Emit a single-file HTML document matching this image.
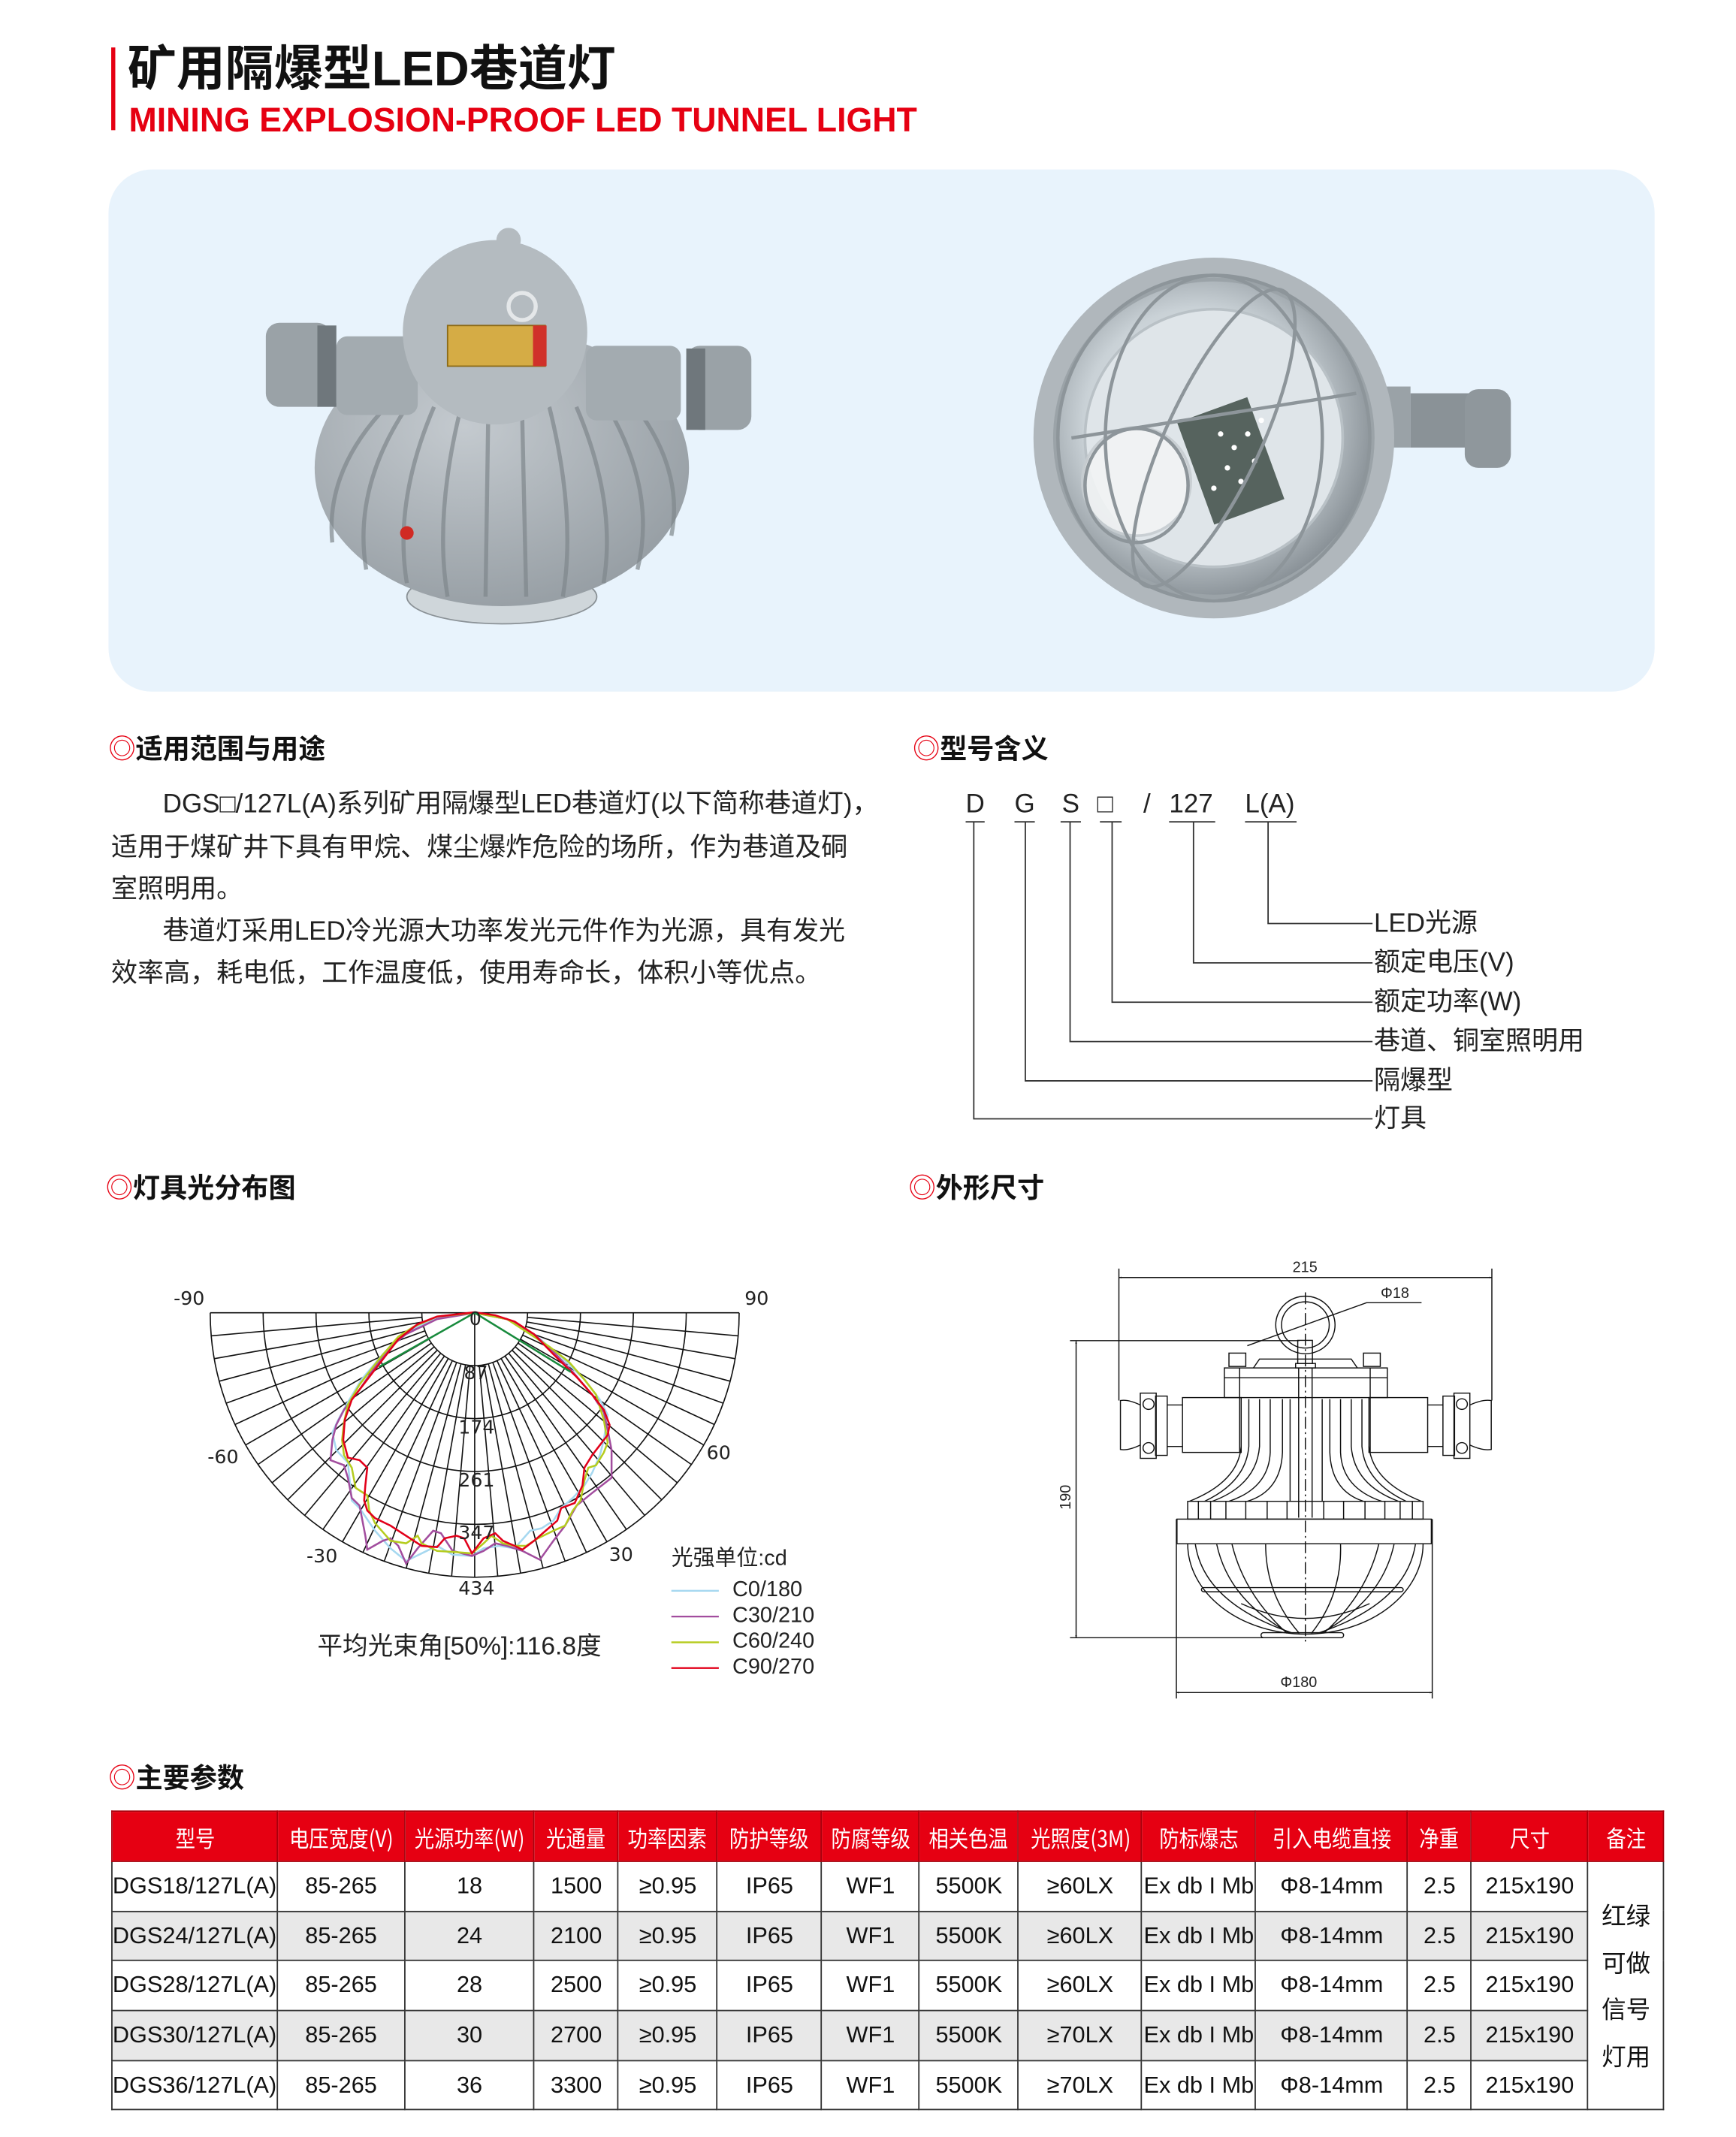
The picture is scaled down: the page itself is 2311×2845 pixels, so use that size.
<!DOCTYPE html>
<html><head><meta charset="utf-8">
<style>
html,body{margin:0;padding:0;background:#fff;}
body{width:2311px;height:2844px;position:relative;overflow:hidden;}
#w{position:absolute;left:0;top:0;width:1280px;height:1576px;transform:scale(1.80547);transform-origin:0 0;font-family:"Liberation Sans","Noto Sans CJK SC",sans-serif;color:#222;}
.a{position:absolute;white-space:nowrap;}
.h{font-size:20px;font-weight:bold;color:#111;line-height:24px;}
.h b{color:#e60012;font-weight:normal;}
.p{font-size:19.4px;line-height:24px;color:#222;}
table{position:absolute;left:82px;top:1335px;border-collapse:collapse;table-layout:fixed;font-family:"Liberation Sans Narrow","Liberation Sans","Noto Sans CJK SC",sans-serif;}
td,th{border:1px solid #333;padding:0;text-align:center;font-size:17px;color:#111;overflow:hidden;white-space:nowrap;}
th{background:#e60012;color:#fff;font-weight:normal;height:36px;border-color:#a8000c;}
th span{display:inline-block;transform:scaleX(0.86);font-family:"Noto Sans CJK SC",sans-serif;font-size:17px;}
td{height:35.7px;}
tr.g td{background:#e8e8e8;}
td.n{background:#fff!important;font-family:"Noto Sans CJK SC",sans-serif;font-size:18px;line-height:34.5px;}
.lg{font-size:16px;line-height:18px;}
.cl{font-size:14px;color:#222;font-family:"DejaVu Sans",sans-serif;}
.dl{font-size:11px;color:#222;font-family:"Liberation Sans",sans-serif;}
</style></head><body>
<div id="w">
<div class="a" style="left:82px;top:35px;width:3px;height:61px;background:#e60012"></div>
<div class="a" style="left:94px;top:31px;font-size:36px;font-weight:bold;line-height:40px;color:#111;font-family:'Liberation Sans','Noto Sans CJK SC',sans-serif;">矿用隔爆型LED巷道灯</div>
<div class="a" style="left:95px;top:75px;font-size:25px;font-weight:bold;line-height:28px;color:#e60012;transform:scaleX(0.99);transform-origin:0 0;">MINING EXPLOSION-PROOF LED TUNNEL LIGHT</div>

<div class="a" style="left:80px;top:125px;width:1140px;height:385px;background:#e8f3fc;border-radius:32px;"></div>

<svg class="a" style="left:0;top:0" width="1280" height="520" viewBox="0 0 1280 520">
 <defs>
  <radialGradient id="gb" cx="0.4" cy="0.35" r="0.8"><stop offset="0" stop-color="#c4cacf"/><stop offset="1" stop-color="#8f979d"/></radialGradient>
  <radialGradient id="gl" cx="0.45" cy="0.45" r="0.6"><stop offset="0" stop-color="#f4f7f9"/><stop offset="0.6" stop-color="#c9d1d6"/><stop offset="1" stop-color="#7e868c"/></radialGradient>
 </defs>
 <ellipse cx="370" cy="440" rx="70" ry="20" fill="#cfd6da" stroke="#8a9196"/>
 <ellipse cx="370" cy="345" rx="138" ry="102" fill="url(#gb)"/>
 <g stroke="#7f878c" stroke-width="3" fill="none" opacity="0.7">
  <path d="M300 300 Q260 360 270 420"/><path d="M320 300 Q290 370 300 430"/><path d="M340 300 Q320 380 330 440"/>
  <path d="M360 305 L358 440"/><path d="M385 305 L388 440"/><path d="M405 300 Q425 380 415 440"/>
  <path d="M425 300 Q455 370 445 430"/><path d="M445 295 Q485 360 470 420"/><path d="M280 305 Q240 350 245 400"/><path d="M465 295 Q505 345 495 395"/>
 </g>
 <rect x="248" y="248" width="60" height="58" rx="8" fill="#a3abb0"/>
 <rect x="432" y="255" width="70" height="55" rx="8" fill="#a3abb0"/>
 <rect x="196" y="238" width="48" height="62" rx="10" fill="#9aa2a7"/>
 <rect x="234" y="240" width="14" height="60" fill="#6f777c"/>
 <rect x="506" y="255" width="48" height="62" rx="10" fill="#9aa2a7"/>
 <rect x="506" y="257" width="14" height="60" fill="#6f777c"/>
 <circle cx="365" cy="245" r="68" fill="#b4bbc0"/>
 <circle cx="375" cy="177" r="9" fill="#b4bbc0"/>
 <rect x="330" y="240" width="72" height="30" fill="#d5ac45" stroke="#8b6a16"/>
 <rect x="393" y="240" width="10" height="30" fill="#d0312a"/>
 <circle cx="385" cy="226" r="10" fill="none" stroke="#e4e7e9" stroke-width="3"/>
 <circle cx="300" cy="393" r="5" fill="#d02a23"/>
 <rect x="990" y="285" width="50" height="45" fill="#9aa2a7"/>
 <rect x="1040" y="290" width="45" height="40" fill="#8a9297"/>
 <rect x="1080" y="287" width="34" height="58" rx="10" fill="#8f979c"/>
 <circle cx="895" cy="323" r="133" fill="#b0b7bc"/>
 <circle cx="895" cy="323" r="117" fill="url(#gl)" stroke="#9ba3a8" stroke-width="3"/>
 <circle cx="895" cy="323" r="95" fill="#dfe5e9" stroke="#b9c1c6" stroke-width="2"/>
 <rect x="880" y="300" width="55" height="80" fill="#56635e" transform="rotate(-20 907 340)"/>
 <g fill="#fff"><circle cx="900" cy="320" r="2"/><circle cx="910" cy="330" r="2"/><circle cx="920" cy="320" r="2"/><circle cx="905" cy="345" r="2"/><circle cx="915" cy="355" r="2"/><circle cx="925" cy="340" r="2"/><circle cx="895" cy="360" r="2"/><circle cx="930" cy="310" r="2"/></g>
 <circle cx="838" cy="355" r="40" fill="#f2f4f5" stroke="#c7cdd1" stroke-width="2" opacity="0.9"/>
 <g fill="none" stroke="#8d959a" stroke-width="2.5">
  <ellipse cx="895" cy="323" rx="115" ry="120"/>
  <ellipse cx="895" cy="323" rx="80" ry="120"/>
  <ellipse cx="895" cy="323" rx="35" ry="120" transform="rotate(25 895 323)"/>
  <line x1="790" y1="323" x2="1000" y2="290"/>
  <ellipse cx="838" cy="358" rx="38" ry="42"/>
 </g>
</svg>

<div class="a h" style="left:80px;top:541px;"><b>◎</b>适用范围与用途</div>
<div class="a p" style="left:120px;top:581px;">DGS□/127L(A)系列矿用隔爆型LED巷道灯(以下简称巷道灯)，</div>
<div class="a p" style="left:82px;top:613px;">适用于煤矿井下具有甲烷、煤尘爆炸危险的场所，作为巷道及硐</div>
<div class="a p" style="left:82px;top:644px;">室照明用。</div>
<div class="a p" style="left:120px;top:675px;">巷道灯采用LED冷光源大功率发光元件作为光源，具有发光</div>
<div class="a p" style="left:82px;top:706px;">效率高，耗电低，工作温度低，使用寿命长，体积小等优点。</div>

<div class="a h" style="left:673px;top:541px;"><b>◎</b>型号含义</div>
<div class="a p" style="left:712px;top:581px;">D</div>
<div class="a p" style="left:748px;top:581px;">G</div>
<div class="a p" style="left:783px;top:581px;">S</div>
<div class="a p" style="left:809px;top:581px;">□</div>
<div class="a p" style="left:843px;top:581px;">/</div>
<div class="a p" style="left:862px;top:581px;">127</div>
<div class="a p" style="left:918px;top:581px;">L(A)</div>
<svg class="a" style="left:0;top:0" width="1280" height="860" viewBox="0 0 1280 860">
 <g stroke="#333" stroke-width="1" fill="none">
  <path d="M712 606H726M748 606H763M782 606H797M811 606H827M862 606H896M918 606H956"/>
  <path d="M935 606V681H1012M880 606V710H1012M820 606V739H1012M789 606V768H1012M756 606V797H1012M718 606V825H1012"/>
 </g>
</svg>
<div class="a p" style="left:1013px;top:669px;">LED光源</div>
<div class="a p" style="left:1013px;top:698px;">额定电压(V)</div>
<div class="a p" style="left:1013px;top:727px;">额定功率(W)</div>
<div class="a p" style="left:1013px;top:756px;">巷道、铜室照明用</div>
<div class="a p" style="left:1013px;top:785px;">隔爆型</div>
<div class="a p" style="left:1013px;top:813px;">灯具</div>

<div class="a h" style="left:78px;top:865px;"><b>◎</b>灯具光分布图</div>
<svg class="a" style="left:0;top:0" width="1280" height="1260" viewBox="0 0 1280 1260">
 <g stroke="#111" stroke-width="0.9" fill="none">
  <path d="M155 968H545"/>
  <path d="M311 968A39 39 0 0 0 389 968"/>
  <path d="M272 968A78 78 0 0 0 428 968"/>
  <path d="M233 968A117 117 0 0 0 467 968"/>
  <path d="M194 968A156 156 0 0 0 506 968"/>
  <path d="M155 968A195 195 0 0 0 545 968"/>
  <path id="rad" d=""/>
 </g>
 <g transform="translate(350,968) scale(0.2859,0.1858) translate(-797,-215)" fill="none" stroke-width="1.4">
  <polyline vector-effect="non-scaling-stroke" stroke="#a6d8f0" points="797,215 700,235 620,290 560,380 505,480 470,570 445,640 430,690 440,760 470,810 480,960 500,990 540,1080 580,1150 620,1200 660,1170 700,1140 740,1175 790,1180 820,1150 860,1140 900,1150 940,1080 970,1070 1000,1040 1020,990 1050,950 1080,900 1100,850 1120,780 1130,720 1140,620 1120,560 1080,480 1020,390 950,300 880,240 797,215"/>
  <polyline vector-effect="non-scaling-stroke" stroke="#a24d9e" points="797,215 700,240 620,300 580,350 540,430 500,520 460,600 440,660 430,720 425,800 460,820 470,870 480,950 500,980 515,1100 520,1155 560,1120 580,1110 600,1140 620,1210 650,1150 690,1080 710,1090 740,1160 790,1180 820,1160 850,1130 880,1140 920,1160 965,1195 1000,1120 1030,1060 1060,980 1100,930 1150,870 1150,760 1140,680 1130,610 1100,540 1050,450 1000,370 950,300 880,240 797,215"/>
  <polyline vector-effect="non-scaling-stroke" stroke="#b5cc1e" points="797,215 700,230 640,270 600,310 550,400 500,500 470,580 460,650 455,720 460,780 480,830 490,910 520,940 525,1000 540,1050 580,1120 620,1130 650,1100 660,1130 700,1160 750,1165 790,1170 820,1130 840,1100 870,1130 900,1140 930,1140 960,1110 1000,1080 1030,1060 1050,1000 1070,960 1080,880 1090,830 1110,820 1130,770 1140,730 1130,640 1110,540 1080,480 1040,410 990,350 940,300 880,240 797,215"/>
  <polyline vector-effect="non-scaling-stroke" stroke="#e2001a" points="797,213 700,230 650,260 600,320 550,420 510,500 480,560 462,640 458,720 470,790 500,800 520,830 515,900 512,960 520,1000 540,1030 580,1060 620,1100 660,1140 700,1145 720,1110 750,1100 770,1110 790,1170 820,1110 850,1090 870,1120 900,1140 920,1155 950,1120 980,1080 1010,1040 1020,990 1055,970 1075,900 1080,830 1100,780 1120,740 1140,700 1145,660 1130,600 1100,540 1060,470 1000,380 950,300 900,250 850,225 797,213"/>
  <polyline vector-effect="non-scaling-stroke" stroke="#178a3c" points="550,430 797,215 1045,450"/>
 </g>
 <g stroke-width="1.3">
  <line x1="495" y1="1173" x2="530" y2="1173" stroke="#a6d8f0"/>
  <line x1="495" y1="1192" x2="530" y2="1192" stroke="#a24d9e"/>
  <line x1="495" y1="1211" x2="530" y2="1211" stroke="#b5cc1e"/>
  <line x1="495" y1="1230" x2="530" y2="1230" stroke="#e2001a"/>
 </g>
</svg>
<div class="a cl" style="left:128px;top:950px;">-90</div>
<div class="a cl" style="left:549px;top:950px;">90</div>
<div class="a cl" style="left:153px;top:1067px;">-60</div>
<div class="a cl" style="left:521px;top:1064px;">60</div>
<div class="a cl" style="left:226px;top:1140px;">-30</div>
<div class="a cl" style="left:449px;top:1139px;">30</div>
<div class="a cl" style="left:338px;top:1164px;">434</div>
<div class="a cl" style="left:346px;top:965px;">0</div>
<div class="a cl" style="left:342px;top:1005px;">87</div>
<div class="a cl" style="left:338px;top:1045px;">174</div>
<div class="a cl" style="left:338px;top:1084px;">261</div>
<div class="a cl" style="left:338px;top:1123px;">347</div>
<div class="a lg" style="left:495px;top:1141px;">光强单位:cd</div>
<div class="a lg" style="left:540px;top:1164px;">C0/180</div>
<div class="a lg" style="left:540px;top:1183px;">C30/210</div>
<div class="a lg" style="left:540px;top:1202px;">C60/240</div>
<div class="a lg" style="left:540px;top:1221px;">C90/270</div>
<div class="a p" style="left:234px;top:1202px;font-size:18.6px;">平均光束角[50%]:116.8度</div>

<div class="a h" style="left:670px;top:865px;"><b>◎</b>外形尺寸</div>
<svg class="a" style="left:0;top:0" width="1280" height="1280" viewBox="0 0 1280 1280">
 <defs><marker id="ar" markerWidth="8" markerHeight="6" refX="8" refY="3" orient="auto-start-reverse" markerUnits="userSpaceOnUse"><path d="M0 0L8 3L0 6Z" fill="#111"/></marker></defs>
 <g transform="translate(825,942) scale(0.2254,0.2186) translate(-240,-130)" fill="none" stroke="#111" stroke-width="3.6">
  <line x1="240" y1="130" x2="1460" y2="130" marker-start="url(#ar)" marker-end="url(#ar)"/>
  <path d="M240 100V545M1460 100V545"/>
  <circle cx="850" cy="290" r="97"/><circle cx="850" cy="290" r="78"/>
  <path d="M660 360L1050 215H1230"/>
  <line x1="100" y1="345" x2="100" y2="1345" marker-start="url(#ar)" marker-end="url(#ar)"/>
  <path d="M80 343H830M80 1345H840"/>
  <line x1="428" y1="1530" x2="1265" y2="1530" marker-start="url(#ar)" marker-end="url(#ar)"/>
  <path d="M428 945V1550M1265 945V1550"/>
  <path d="M850 180V1370" stroke-dasharray="40 12 6 12"/>
  <rect x="825" y="342" width="48" height="78"/><rect x="818" y="420" width="65" height="15"/>
  <path d="M828 435V940M872 435V940"/>
  <rect x="600" y="385" width="55" height="45"/><rect x="1040" y="385" width="55" height="45"/>
  <path d="M680 435L700 405H1000L1020 435"/>
  <rect x="585" y="435" width="533" height="100"/>
  <path d="M585 468H1118M635 435V720M1062 435V720"/>
  <rect x="448" y="535" width="192" height="185"/><rect x="1058" y="535" width="192" height="185"/>
  <rect x="360" y="530" width="38" height="200"/><rect x="310" y="520" width="52" height="220"/>
  <circle cx="337" cy="557" r="18"/><circle cx="337" cy="705" r="18"/>
  <rect x="1300" y="530" width="38" height="200"/><rect x="1336" y="520" width="52" height="220"/>
  <circle cx="1362" cy="557" r="18"/><circle cx="1362" cy="705" r="18"/>
  <path d="M310 560Q270 540 245 545V710Q270 715 310 695"/>
  <path d="M1388 560Q1430 540 1458 545V710Q1430 715 1388 695"/>
  <path d="M398 560H448M398 700H448M1250 560H1300M1250 700H1300"/>
  <path d="M665 540V700Q655 820 520 885M700 540V700Q690 830 545 885M735 540V720Q730 840 600 885M775 540V720Q770 850 660 885M800 540V885M905 540V885"/>
  <path d="M1035 540V700Q1045 820 1180 885M1000 540V700Q1010 830 1155 885M965 540V720Q970 840 1100 885M930 540V720Q935 850 1040 885"/>
  <path d="M640 700Q630 820 470 885M1058 700Q1070 820 1230 885"/>
  <rect x="465" y="885" width="770" height="60"/>
  <path d="M500 885V945M540 885V945M590 885V945M655 885V945M725 885V945M790 885V945M910 885V945M975 885V945M1045 885V945M1110 885V945M1160 885V945M1200 885V945"/>
  <rect x="430" y="945" width="832" height="83"/>
  <path d="M465 1028A385 305 0 0 0 1235 1028"/>
  <path d="M490 1030Q520 1230 810 1330M560 1030Q600 1220 800 1330M610 1030Q650 1200 790 1330M720 1030Q720 1200 830 1330M1210 1030Q1180 1230 890 1330M1140 1030Q1100 1220 900 1330M1090 1030Q1050 1200 910 1330M965 1030Q970 1200 870 1330"/>
  <path d="M640 1230Q850 1330 1060 1230"/>
  <rect x="510" y="1176" width="660" height="14" rx="7"/>
  <rect x="705" y="1328" width="270" height="17" rx="8"/>
 </g>
</svg>
<div class="a dl" style="left:953px;top:929px;">215</div>
<div class="a dl" style="left:1018px;top:948px;">Φ18</div>
<div class="a dl" style="left:777px;top:1098px;transform:rotate(-90deg);">190</div>
<div class="a dl" style="left:944px;top:1235px;">Φ180</div>

<div class="a h" style="left:80px;top:1300px;"><b>◎</b>主要参数</div>
<table>
<colgroup><col style="width:122px"><col style="width:94px"><col style="width:91px"><col style="width:62px"><col style="width:73px"><col style="width:77px"><col style="width:72px"><col style="width:73px"><col style="width:91px"><col style="width:84px"><col style="width:112px"><col style="width:47px"><col style="width:86px"><col style="width:56px"></colgroup>
<tr><th><span>型号</span></th><th><span>电压宽度(V)</span></th><th><span>光源功率(W)</span></th><th><span>光通量</span></th><th><span>功率因素</span></th><th><span>防护等级</span></th><th><span>防腐等级</span></th><th><span>相关色温</span></th><th><span>光照度(3M)</span></th><th><span>防标爆志</span></th><th><span>引入电缆直接</span></th><th><span>净重</span></th><th><span>尺寸</span></th><th><span>备注</span></th></tr>
<tr><td>DGS18/127L(A)</td><td>85-265</td><td>18</td><td>1500</td><td>≥0.95</td><td>IP65</td><td>WF1</td><td>5500K</td><td>≥60LX</td><td>Ex db I Mb</td><td>Φ8-14mm</td><td>2.5</td><td>215x190</td><td class="n" rowspan="5">红绿<br>可做<br>信号<br>灯用</td></tr>
<tr class="g"><td>DGS24/127L(A)</td><td>85-265</td><td>24</td><td>2100</td><td>≥0.95</td><td>IP65</td><td>WF1</td><td>5500K</td><td>≥60LX</td><td>Ex db I Mb</td><td>Φ8-14mm</td><td>2.5</td><td>215x190</td></tr>
<tr><td>DGS28/127L(A)</td><td>85-265</td><td>28</td><td>2500</td><td>≥0.95</td><td>IP65</td><td>WF1</td><td>5500K</td><td>≥60LX</td><td>Ex db I Mb</td><td>Φ8-14mm</td><td>2.5</td><td>215x190</td></tr>
<tr class="g"><td>DGS30/127L(A)</td><td>85-265</td><td>30</td><td>2700</td><td>≥0.95</td><td>IP65</td><td>WF1</td><td>5500K</td><td>≥70LX</td><td>Ex db I Mb</td><td>Φ8-14mm</td><td>2.5</td><td>215x190</td></tr>
<tr><td>DGS36/127L(A)</td><td>85-265</td><td>36</td><td>3300</td><td>≥0.95</td><td>IP65</td><td>WF1</td><td>5500K</td><td>≥70LX</td><td>Ex db I Mb</td><td>Φ8-14mm</td><td>2.5</td><td>215x190</td></tr>
</table>
</div>
<script>
(function(){var d="";var cx=350,cy=968;for(var a=-85;a<=85;a+=5){if(a===0)continue;var t=a*Math.PI/180;var s=Math.sin(t),c=Math.cos(t);d+="M"+(cx+39*s).toFixed(2)+" "+(cy+39*c).toFixed(2)+"L"+(cx+195*s).toFixed(2)+" "+(cy+195*c).toFixed(2);}d+="M350 968V1163";document.getElementById("rad").setAttribute("d",d);})();
</script>
</body></html>
